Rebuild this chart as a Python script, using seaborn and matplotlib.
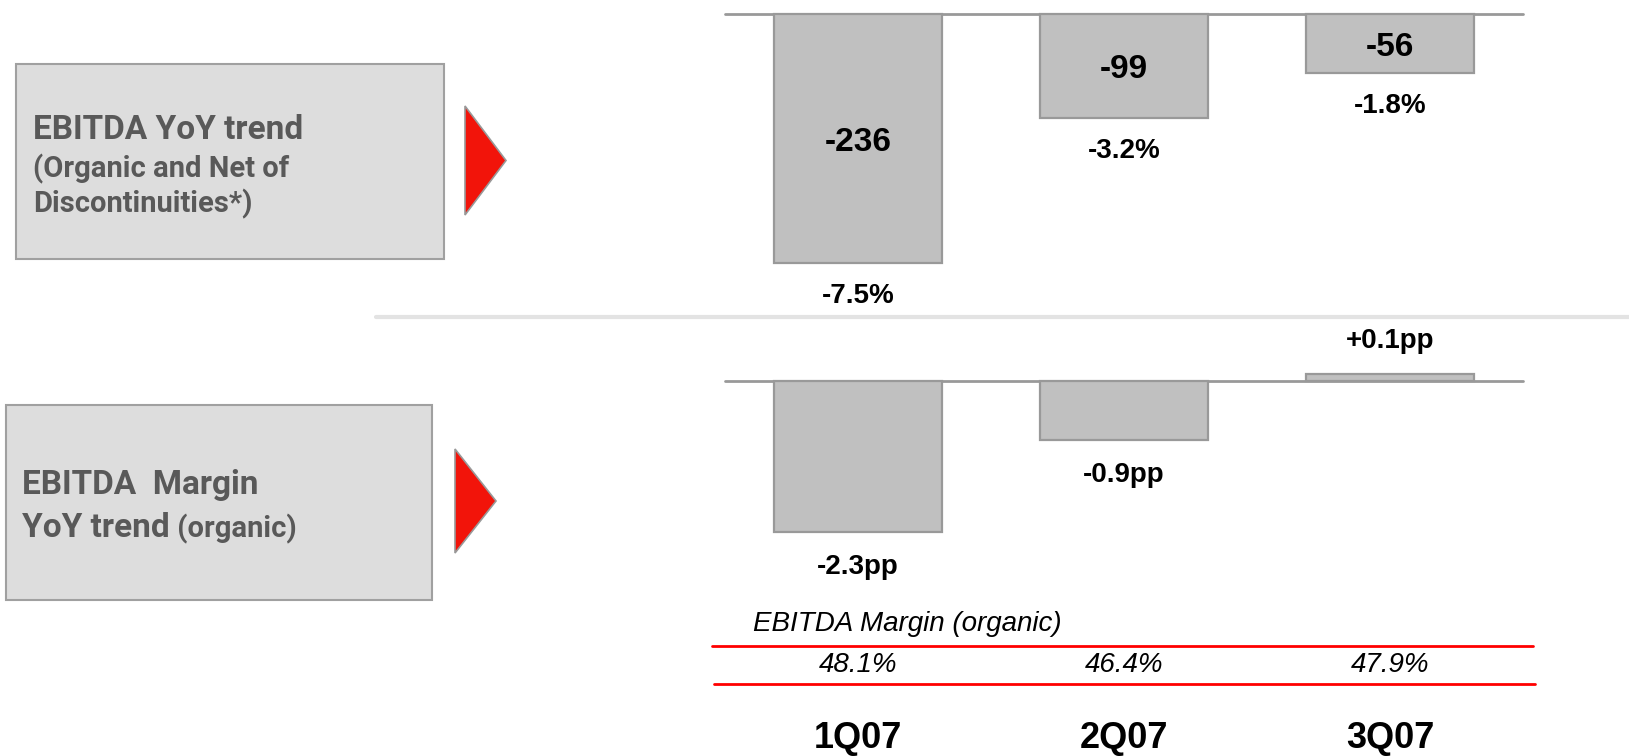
import matplotlib
matplotlib.use("Agg")
import matplotlib.pyplot as plt
from matplotlib.patches import Rectangle, Polygon
from matplotlib.lines import Line2D
from matplotlib.text import Annotation
from matplotlib.transforms import blended_transform_factory
import seaborn as sns

# ---- data ----
quarters = ["1Q07", "2Q07", "3Q07"]
ebitda_yoy = [-236, -99, -56]
ebitda_yoy_pct = ["-7.5%", "-3.2%", "-1.8%"]
margin_yoy_pp = [-2.3, -0.9, 0.1]
margin_yoy_labels = ["-2.3pp", "-0.9pp", "+0.1pp"]
margin_organic = ["48.1%", "46.4%", "47.9%"]

sns.set_theme(style="white")
MAIN = ["Liberation Sans", "DejaVu Sans"]
BOXFONT = ["Roboto", "DejaVu Sans"]
plt.rcParams["font.family"] = MAIN

W, H = 1629, 756
fig = plt.figure(figsize=(W / 100, H / 100), dpi=100)
fig.patch.set_facecolor("white")


def fx(x):
    return x / W


def fy(y):
    return 1 - y / H


BAR_FILL = "#c0c0c0"
BAR_EDGE = "#999999"
LABEL_BOX = "#dddddd"
TEXT_GREY = "#595959"
RED = "#ff0000"


def bar_axes(top_px, bottom_px, base_px, px_per_unit):
    ax = fig.add_axes([fx(725), fy(bottom_px), 798 / W, (bottom_px - top_px) / H])
    ax.set_ylim(-(bottom_px - base_px) / px_per_unit, (base_px - top_px) / px_per_unit)
    return ax


def draw_bars(ax, values):
    sns.barplot(x=quarters, y=values, ax=ax, color=BAR_FILL, saturation=1,
                edgecolor=BAR_EDGE, linewidth=1.6, width=0.63, errorbar=None)
    for p in ax.patches:
        p.set_clip_on(False)
    ax.set_xlim(-0.5, 2.5)
    ax.axhline(0, color=BAR_EDGE, lw=2, clip_on=False, zorder=0.5)
    ax.axis("off")


# ---- top panel: EBITDA YoY trend ----
ax1 = bar_axes(13.5, 300, 13.5, 249.5 / 236)
draw_bars(ax1, ebitda_yoy)
for i, (v, pct) in enumerate(zip(ebitda_yoy, ebitda_yoy_pct)):
    ax1.annotate(f"{v}", xy=(i, v / 2), xytext=(0, -3), textcoords="offset points",
                 ha="center", va="center", fontsize=24, fontweight="bold",
                 color="black")
    ax1.annotate(pct, xy=(i, v), xytext=(0, -24), textcoords="offset points",
                 ha="center", va="center", fontsize=20, fontweight="bold",
                 color="black")

# ---- bottom panel: EBITDA margin YoY trend ----
ax2 = bar_axes(310, 600, 381, 151 / 2.3)
draw_bars(ax2, margin_yoy_pp)
for i, (v, lab) in enumerate(zip(margin_yoy_pp, margin_yoy_labels)):
    off = 24 if v > 0 else -25
    ax2.annotate(lab, xy=(i, v), xytext=(0, off), textcoords="offset points",
                 ha="center", va="center", fontsize=20, fontweight="bold",
                 color="black")

# ---- margin table and quarter labels ----
fig.text(fx(753), fy(624), "EBITDA Margin (organic)", ha="left", va="center",
         fontsize=20, fontstyle="italic", color="black")
fig.add_artist(Line2D([fx(712), fx(1533)], [fy(646), fy(646)], color=RED, lw=2))
fig.add_artist(Line2D([fx(714), fx(1535)], [fy(684), fy(684)], color=RED, lw=2))
col_tr = blended_transform_factory(ax2.transData, fig.transFigure)
for i, (m, q) in enumerate(zip(margin_organic, quarters)):
    ax2.text(i, fy(665), m, transform=col_tr, ha="center", va="center",
             fontsize=20, fontstyle="italic", color="black")
    ax2.text(i, fy(738), q, transform=col_tr, ha="center", va="center",
             fontsize=26, fontweight="bold", color="black")

# ---- separator between panels ----
fig.add_artist(Line2D([fx(376), 1.0], [fy(317), fy(317)], color="#e3e3e3", lw=3))

# ---- left label boxes with arrows ----
fig.add_artist(Rectangle((fx(15.5), fy(259)), (444 - 15.5) / W, (259 - 63.5) / H,
                         transform=fig.transFigure, facecolor=LABEL_BOX,
                         edgecolor="#a0a0a0", lw=1.5))
fig.add_artist(Rectangle((fx(6), fy(600)), (432 - 6) / W, (600 - 405) / H,
                         transform=fig.transFigure, facecolor=LABEL_BOX,
                         edgecolor="#a0a0a0", lw=1.5))
for (x0, y0, x1, y1) in [(465, 106, 506, 215), (455, 449, 496, 553)]:
    fig.add_artist(Polygon([(fx(x0), fy(y0)), (fx(x1), fy((y0 + y1) / 2)),
                            (fx(x0), fy(y1))], closed=True,
                           transform=fig.transFigure, facecolor="#f2140a",
                           edgecolor="#999999", lw=1.2))

box_kw = dict(ha="left", va="center", fontweight="bold", color=TEXT_GREY,
              family=BOXFONT)
fig.text(fx(33), fy(130), "EBITDA YoY trend", fontsize=24, **box_kw)
fig.text(fx(33), fy(169), "(Organic and Net of", fontsize=21, **box_kw)
fig.text(fx(33), fy(204), "Discontinuities*)", fontsize=21, **box_kw)

fig.text(fx(22), fy(485), "EBITDA  Margin", fontsize=24, **box_kw)
t = fig.text(fx(22), fy(528), "YoY trend", fontsize=24, **box_kw)
fig.add_artist(Annotation(
    " (organic)", xy=(1, 0), xycoords=t, ha="left", va="bottom",
    fontsize=21, fontweight="bold", color=TEXT_GREY, family=BOXFONT))

fig.savefig("out.png", dpi=100, facecolor="white")
